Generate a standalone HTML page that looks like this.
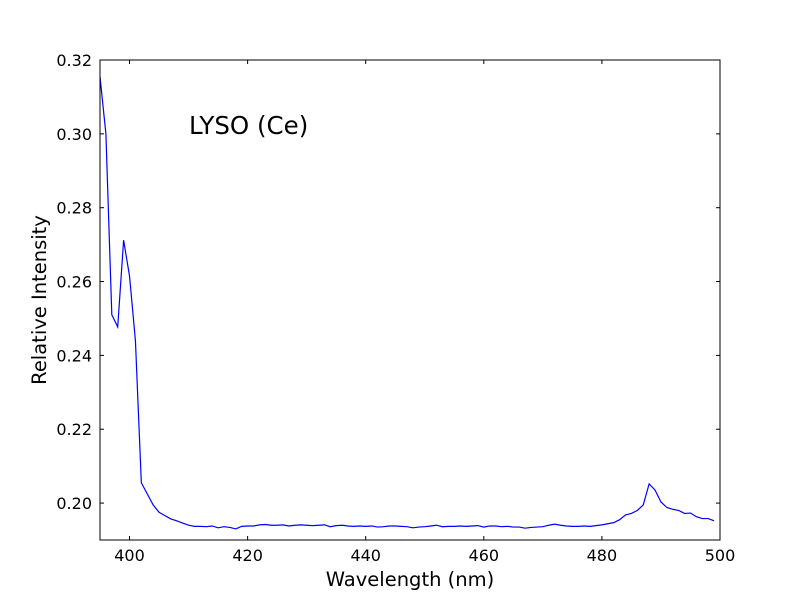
<!DOCTYPE html>
<html><head><meta charset="utf-8"><style>body{margin:0;background:#fff}svg{display:block}</style></head>
<body>
<svg id="chart" width="800" height="600" font-family="'DejaVu Sans', 'Liberation Sans', sans-serif"></svg>
<script>
const startWavelength = 395;
const intensity = [0.3155,0.300,0.251,0.2477,0.2712,0.2615,0.244,0.2055,0.2025,0.1995,0.1975,0.1966,0.1957,0.1952,0.1946,0.1940,0.1937,0.1937,0.1936,0.1938,0.1933,0.1936,0.1934,0.1930,0.1937,0.1938,0.1938,0.1941,0.1942,0.1940,0.1940,0.1941,0.1938,0.1940,0.1941,0.1940,0.1939,0.1940,0.1941,0.1936,0.1939,0.1940,0.1938,0.1937,0.1938,0.1937,0.1938,0.1935,0.1936,0.1938,0.1938,0.1937,0.1936,0.1933,0.1935,0.1936,0.1938,0.1940,0.1936,0.1937,0.1937,0.1938,0.1937,0.1938,0.1939,0.1935,0.1938,0.1938,0.1936,0.1937,0.1935,0.1935,0.1932,0.1934,0.1935,0.1936,0.1940,0.1943,0.1940,0.1938,0.1937,0.1937,0.1938,0.1937,0.1939,0.1941,0.1944,0.1947,0.1955,0.1968,0.1972,0.1980,0.1995,0.2052,0.2035,0.2003,0.1988,0.1983,0.1980,0.1972,0.1973,0.1963,0.1958,0.1958,0.1952];
const xTicks = [400,420,440,460,480,500];
const yTicks = [0.20,0.22,0.24,0.26,0.28,0.30,0.32];
const L=100,R=720,T=60,B=540,xmin=395,xmax=500,ymin=0.19,ymax=0.32;
const X=v=>L+(v-xmin)/(xmax-xmin)*(R-L);
const Y=v=>B-(v-ymin)/(ymax-ymin)*(B-T);
const svg=document.getElementById('chart');const NS='http://www.w3.org/2000/svg';
function mk(t,a,txt){const e=document.createElementNS(NS,t);for(const k in a)e.setAttribute(k,a[k]);if(txt!==undefined)e.textContent=txt;svg.appendChild(e);return e;}
let d='';intensity.forEach((v,i)=>{d+=(i?'L':'M')+X(startWavelength+i).toFixed(2)+','+Y(v).toFixed(2);});
const clip=mk('clipPath',{id:'c'});const cr=document.createElementNS(NS,'rect');cr.setAttribute('x',L);cr.setAttribute('y',T);cr.setAttribute('width',R-L);cr.setAttribute('height',B-T);clip.appendChild(cr);
const line=mk('path',{d:d,fill:'none',stroke:'#0000ff','stroke-width':1.2,'clip-path':'url(#c)'});


const frame=mk('rect',{x:L,y:T,width:R-L,height:B-T,fill:'none',stroke:'#000','stroke-width':1});


xTicks.forEach(t=>{const x=X(t);mk('line',{x1:x,x2:x,y1:B,y2:B-4,stroke:'#000'});mk('line',{x1:x,x2:x,y1:T,y2:T+4,stroke:'#000'});
const lb=mk('text',{x:x,y:B+21,'text-anchor':'middle','font-size':16},t);

});
yTicks.forEach(t=>{const y=Y(t);mk('line',{x1:L,x2:L+4,y1:y,y2:y,stroke:'#000'});mk('line',{x1:R,x2:R-4,y1:y,y2:y,stroke:'#000'});
const lb=mk('text',{x:L-8,y:y+6,'text-anchor':'end','font-size':16},t.toFixed(2));

});
const xt=mk('text',{x:410,y:586,'text-anchor':'middle','font-size':19.5},'Wavelength (nm)');


const yt=mk('text',{x:46,y:300,'text-anchor':'middle','font-size':19.5,transform:'rotate(-90 46 300)'},'Relative Intensity');


const an=mk('text',{x:189,y:134,'font-size':24.5},'LYSO (Ce)');


</script>
</body></html>
